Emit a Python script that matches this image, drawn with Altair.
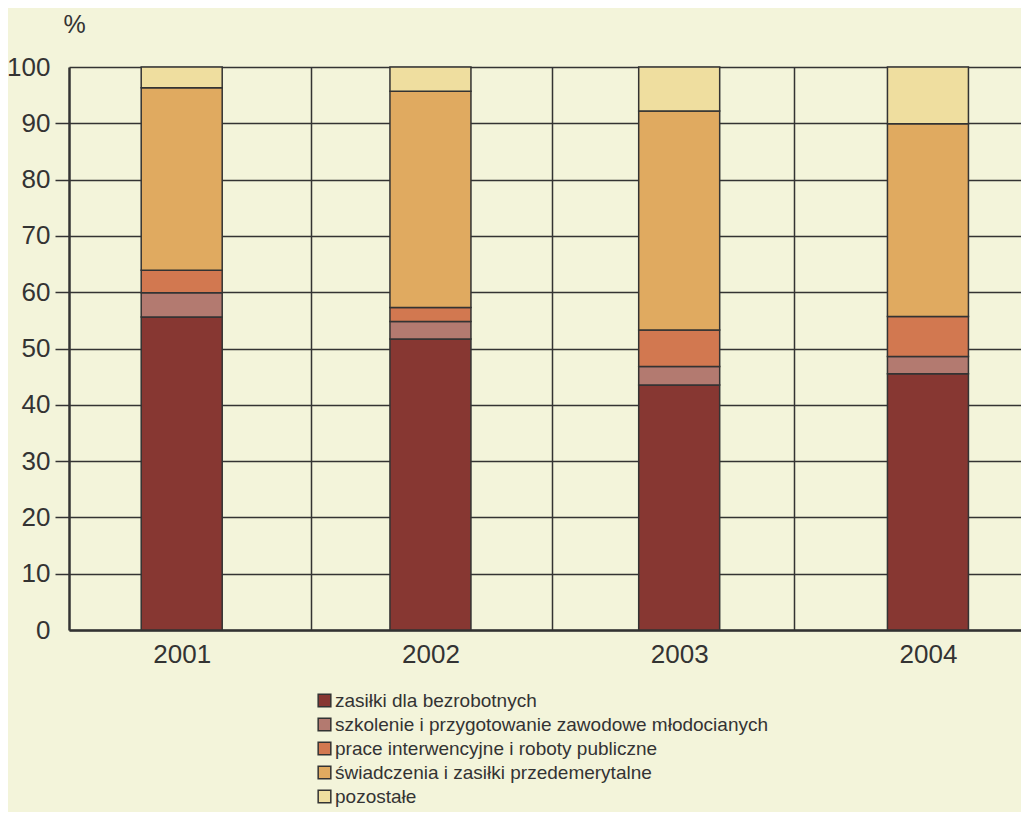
import altair as alt
import pandas as pd

years = [2001, 2002, 2003, 2004]
categories = [
    "zasiłki dla bezrobotnych",
    "szkolenie i przygotowanie zawodowe młodocianych",
    "prace interwencyjne i roboty publiczne",
    "świadczenia i zasiłki przedemerytalne",
    "pozostałe",
]
zasilki = [55.6, 51.7, 43.5, 45.5]
szkolenie = [4.3, 3.1, 3.3, 3.1]
prace = [4.0, 2.5, 6.5, 7.1]
swiadczenia = [32.4, 38.4, 38.9, 34.2]
pozostale = [3.7, 4.3, 7.8, 10.1]
colors = ["#873732", "#B37A70", "#D27850", "#E0AA60", "#EFDE9F"]
y_ticks = [0, 10, 20, 30, 40, 50, 60, 70, 80, 90, 100]
x_axis_values = [2001, 2001.52, 2002, 2002.49, 2003, 2003.46, 2004]

series = [zasilki, szkolenie, prace, swiadczenia, pozostale]
rows = []
for ci, (cat, vals) in enumerate(zip(categories, series)):
    for yr, v in zip(years, vals):
        rows.append({"rok": yr, "kategoria": cat, "wartosc": v, "idx": ci})
df = pd.DataFrame(rows)

FONT = "Liberation Sans"
TXT = "#333333"

chart = alt.Chart(df).mark_bar(size=81, stroke="#333333", strokeWidth=1.5).encode(
    x=alt.X(
        "rok:Q",
        scale=alt.Scale(domain=[2000.567, 2004.354], nice=False, zero=False),
        axis=alt.Axis(
            values=x_axis_values,
            labelExpr="datum.value % 1 == 0 ? format(datum.value, 'd') : ''",
            title=None,
            ticks=False,
            tickSize=0,
            labelPadding=11,
            labelFontSize=26,
            labelColor=TXT,
            labelFont=FONT,
            domainColor="#333333",
            domainWidth=2.5,
            grid=True,
            gridColor="#333333",
            gridWidth=1.5,
            gridOpacity={"condition": {"test": "datum.value % 1 == 0", "value": 0}, "value": 1},
        ),
    ),
    y=alt.Y(
        "wartosc:Q",
        stack="zero",
        scale=alt.Scale(domain=[0, 100], nice=False),
        axis=alt.Axis(
            values=y_ticks,
            title="%",
            titleAngle=0,
            titleAlign="center",
            titleBaseline="middle",
            titleX=5,
            titleY=-43,
            titleFontSize=25,
            titleFontWeight="normal",
            titleColor=TXT,
            titleFont=FONT,
            tickSize=14,
            tickColor="#333333",
            tickWidth=1.5,
            tickOpacity={"condition": {"test": "datum.value == 0 || datum.value == 100", "value": 0}, "value": 1},
            labelPadding=5,
            labelFontSize=26,
            labelColor=TXT,
            labelFont=FONT,
            domainColor="#333333",
            domainWidth=2.5,
            grid=True,
            gridColor="#333333",
            gridWidth=1.5,
        ),
    ),
    color=alt.Color(
        "kategoria:N",
        scale=alt.Scale(domain=categories, range=colors),
        legend=alt.Legend(
            title=None,
            orient="none",
            legendX=246,
            legendY=624,
            symbolType="square",
            symbolSize=160,
            symbolStrokeColor="#333333",
            symbolStrokeWidth=1.5,
            symbolOpacity=1,
            labelFontSize=19,
            labelFont=FONT,
            labelColor=TXT,
            labelOffset=1,
            rowPadding=4,
            labelLimit=700,
        ),
    ),
    order=alt.Order("idx:Q", sort="ascending"),
).properties(
    width=952,
    height=563,
    autosize=alt.AutoSizeParams(type="none"),
    padding={"left": 61, "top": 59, "right": 0, "bottom": 182},
    background="#F3F4DA",
).configure_view(
    stroke="transparent",
    fill="#F3F4DA",
)

chart.save("out.html", embed_options={"renderer": "svg", "actions": False})
